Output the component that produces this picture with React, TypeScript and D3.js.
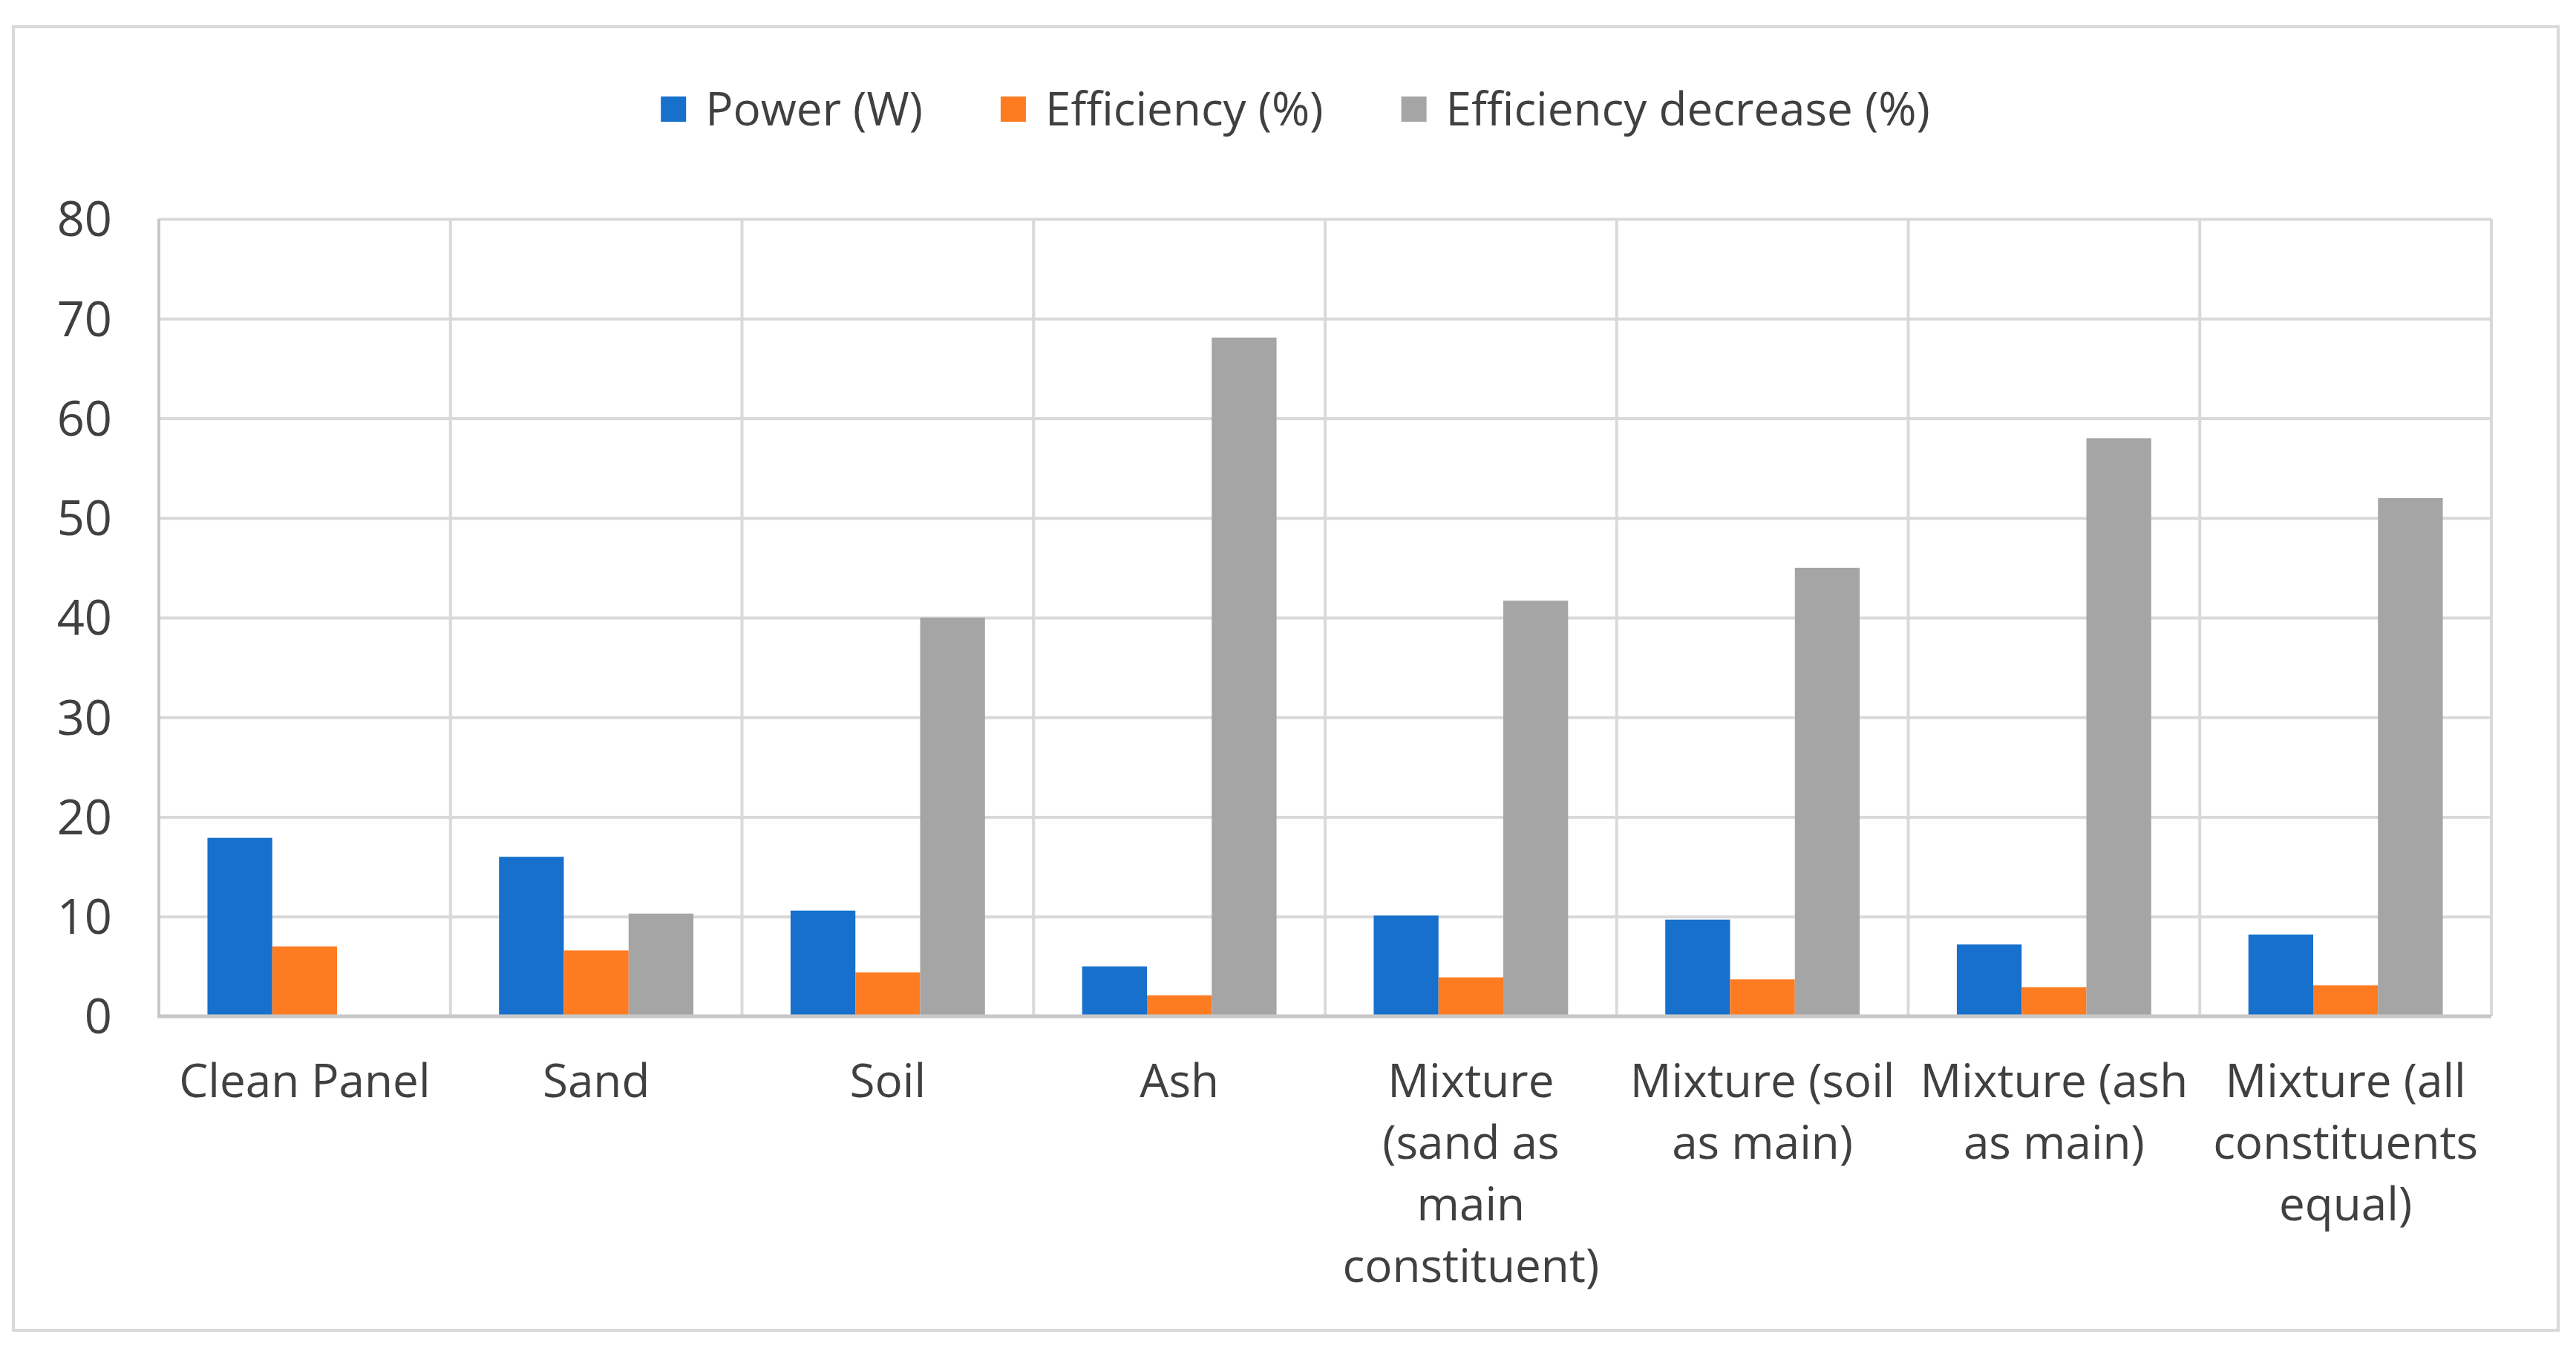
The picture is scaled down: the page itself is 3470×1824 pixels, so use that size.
import React, { useEffect, useRef } from 'react';
import * as d3 from 'd3';

const categories = [
  'Clean Panel',
  'Sand',
  'Soil',
  'Ash',
  'Mixture (sand as main constituent)',
  'Mixture (soil as main)',
  'Mixture (ash as main)',
  'Mixture (all constituents equal)',
];

// wrapped the way the picture wraps them
const categoryLines = [
  ['Clean Panel'],
  ['Sand'],
  ['Soil'],
  ['Ash'],
  ['Mixture', '(sand as', 'main', 'constituent)'],
  ['Mixture (soil', 'as main)'],
  ['Mixture (ash', 'as main)'],
  ['Mixture (all', 'constituents', 'equal)'],
];

const seriesNames = ['Power (W)', 'Efficiency (%)', 'Efficiency decrease (%)'];
const seriesColors = ['#1670cc', '#fd7c22', '#a5a5a5'];

const power = [17.9, 16.0, 10.6, 5.0, 10.1, 9.7, 7.2, 8.2];
const efficiency = [7.0, 6.6, 4.4, 2.1, 3.9, 3.7, 2.9, 3.1];
const efficiencyDecrease = [0, 10.3, 40.0, 68.1, 41.7, 45.0, 58.0, 52.0];

const yTicks = [0, 10, 20, 30, 40, 50, 60, 70, 80];

const FONT = '"Open Sans", "Noto Sans", sans-serif';
const TEXT = '#404040';

const App: React.FC = () => {
  const svgRef = useRef<SVGSVGElement>(null);

  useEffect(() => {
    if (!svgRef.current) return;
    document.body.style.margin = '0';

    const W = 3470;
    const H = 1824;
    const margin = { top: 295, right: 114, bottom: 455, left: 214 };
    const width = W - margin.left - margin.right;
    const height = H - margin.top - margin.bottom;

    const root = d3.select(svgRef.current);
    root.selectAll('*').remove();

    root.append('rect').attr('width', W).attr('height', H).attr('fill', '#ffffff');

    // chart border
    root.append('rect')
      .attr('x', 18)
      .attr('y', 36)
      .attr('width', 3428)
      .attr('height', 1756)
      .attr('fill', 'none')
      .attr('stroke', '#d9d9d9')
      .attr('stroke-width', 4);

    const svg = root.append('g')
      .attr('transform', `translate(${margin.left},${margin.top})`);

    const x0 = d3.scaleBand<string>()
      .domain(categories)
      .range([0, width])
      .paddingInner(0)
      .paddingOuter(0);

    const step = x0.bandwidth();
    const x1 = d3.scaleBand<number>()
      .domain([0, 1, 2])
      .range([step * 0.75 / 4.5, step - step * 0.75 / 4.5])
      .padding(0);

    const y = d3.scaleLinear().domain([0, 80]).range([height, 0]);

    // horizontal grid
    svg.append('g')
      .call(d3.axisLeft(y).tickValues(yTicks).tickSize(-width).tickFormat(() => ''))
      .call(g => g.select('.domain').remove())
      .call(g => g.selectAll('.tick line').attr('stroke', '#d9d9d9').attr('stroke-width', 4));

    // vertical category separators
    svg.append('g')
      .selectAll('line')
      .data(d3.range(categories.length + 1))
      .enter()
      .append('line')
      .attr('x1', i => i * step)
      .attr('x2', i => i * step)
      .attr('y1', 0)
      .attr('y2', height)
      .attr('stroke', (i: number) => (i === 0 ? '#c8c8c8' : '#d9d9d9'))
      .attr('stroke-width', 4);

    // bars
    const series = [power, efficiency, efficiencyDecrease];
    series.forEach((vals, s) => {
      svg.append('g')
        .selectAll('rect')
        .data(vals)
        .enter()
        .append('rect')
        .attr('x', (_d, i) => (x0(categories[i]) || 0) + (x1(s) || 0))
        .attr('width', x1.bandwidth())
        .attr('y', d => y(d))
        .attr('height', d => y(0) - y(d))
        .attr('fill', seriesColors[s]);
    });

    // baseline
    svg.append('line')
      .attr('x1', -2)
      .attr('x2', width)
      .attr('y1', y(0))
      .attr('y2', y(0))
      .attr('stroke', '#c8c8c8')
      .attr('stroke-width', 5);

    // y tick labels
    svg.append('g')
      .selectAll('text')
      .data(yTicks)
      .enter()
      .append('text')
      .attr('x', -63)
      .attr('y', d => y(d))
      .attr('dy', '0.36em')
      .attr('text-anchor', 'end')
      .attr('font-family', FONT)
      .attr('font-size', 65)
      .attr('fill', TEXT)
      .text(d => String(d));

    // category labels
    const labels = svg.append('g')
      .selectAll('text')
      .data(categories)
      .enter()
      .append('text')
      .attr('text-anchor', 'middle')
      .attr('font-family', FONT)
      .attr('font-size', 62)
      .attr('fill', TEXT)
      .attr('transform', d => `translate(${(x0(d) || 0) + step / 2},${height + 109})`);

    labels.each(function (_d, i) {
      d3.select(this)
        .selectAll('tspan')
        .data(categoryLines[i])
        .enter()
        .append('tspan')
        .attr('x', 0)
        .attr('y', (_l, j) => j * 83)
        .text(l => l);
    });

    // legend
    const legend = root.append('g');
    const items = legend.selectAll('g')
      .data(seriesNames)
      .enter()
      .append('g');

    items.append('rect')
      .attr('width', 34)
      .attr('height', 34)
      .attr('y', -17)
      .attr('fill', (_d, i) => seriesColors[i]);

    items.append('text')
      .attr('x', 60)
      .attr('dy', '0.36em')
      .attr('font-family', FONT)
      .attr('font-size', 62)
      .attr('fill', TEXT)
      .text(d => d);

    const widths: number[] = [];
    items.each(function () {
      const t = d3.select(this).select('text').node() as SVGTextElement;
      widths.push(60 + t.getComputedTextLength());
    });
    const gap = 105;
    const total = d3.sum(widths) + gap * (widths.length - 1);
    let cx = 1745 - total / 2;
    items.attr('transform', (_d, i) => {
      const tx = cx;
      cx += widths[i] + gap;
      return `translate(${tx},147)`;
    });
  }, []);

  return (
    <svg
      ref={svgRef}
      width={3470}
      height={1824}
      style={{ display: 'block', position: 'absolute', left: 0, top: 0 }}
    />
  );
};

export default App;
